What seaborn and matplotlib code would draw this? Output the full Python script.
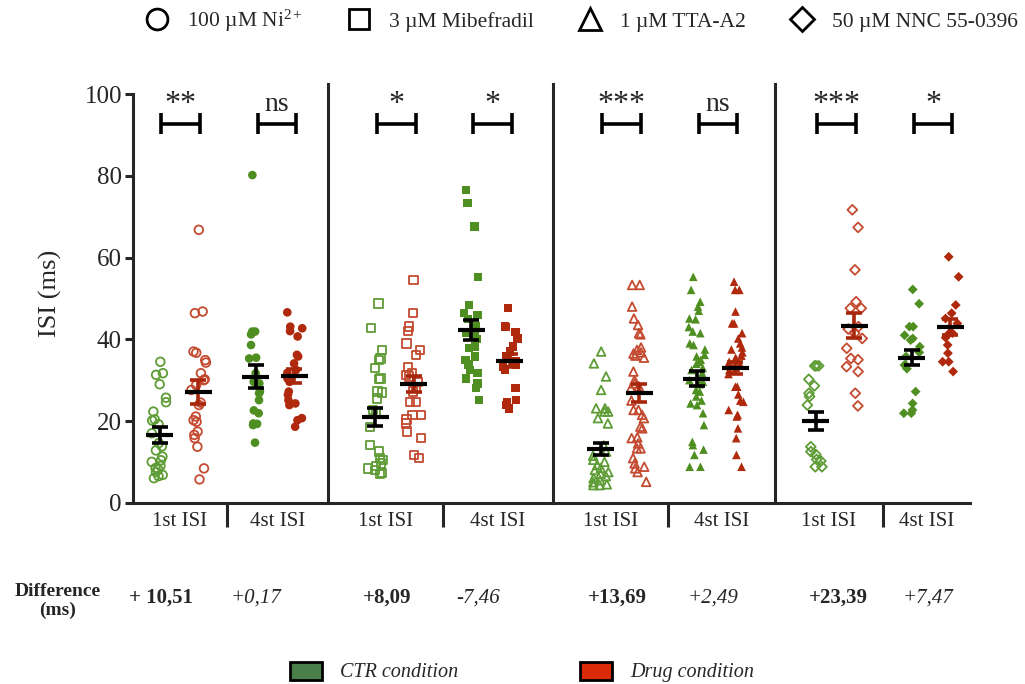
import numpy as np
import pandas as pd
import matplotlib
matplotlib.use("Agg")
import matplotlib.pyplot as plt
from matplotlib.lines import Line2D
from matplotlib.patches import Patch
import seaborn as sns

# ISI values (ms), one list per group
ni_ctr_1st = [34.5, 31.7, 31.3, 29.0, 25.7, 24.6, 22.3, 20.4, 20.1, 19.2, 17.0, 14.6,
              13.8, 12.8, 11.3, 10.4, 10.0, 9.0, 8.5, 8.2, 7.5, 6.8, 6.5, 6.0]
ni_drug_1st = [66.8, 46.8, 46.4, 37.0, 36.7, 34.9, 34.3, 31.7, 30.2, 30.0, 28.8, 27.6,
               24.5, 23.9, 21.1, 20.2, 19.8, 17.4, 16.6, 15.8, 13.7, 8.4, 5.7]
ni_ctr_4st = [80.2, 41.9, 41.9, 41.2, 38.6, 35.5, 35.3, 31.7, 29.6, 29.2, 27.2, 26.8,
              25.1, 22.6, 21.9, 19.4, 19.3, 19.0, 14.7]
ni_drug_4st = [46.6, 43.1, 42.7, 42.0, 40.7, 36.2, 35.8, 34.1, 32.5, 31.8, 30.4, 29.6,
               27.2, 26.4, 25.1, 24.3, 23.9, 20.7, 20.2, 18.6]

mib_ctr_1st = [48.8, 42.7, 37.4, 35.3, 34.9, 32.9, 30.4, 30.2, 27.2, 27.0, 25.5, 22.7,
               21.9, 18.6, 14.1, 12.5, 10.9, 10.4, 9.6, 9.0, 8.4, 8.0, 7.2, 7.0]
mib_drug_1st = [54.5, 46.4, 43.1, 42.1, 39.0, 37.4, 36.2, 33.3, 31.7, 31.3, 30.9, 29.6,
                28.0, 27.2, 24.7, 24.7, 21.5, 21.5, 20.4, 19.4, 17.4, 15.8, 11.7, 10.9]
mib_ctr_4st = [76.6, 73.3, 67.6, 55.2, 48.4, 46.4, 46.0, 45.0, 43.1, 41.5, 41.1, 40.0,
               38.2, 37.8, 35.8, 34.9, 33.8, 32.5, 31.7, 30.4, 29.2, 28.0, 25.1]
mib_drug_4st = [47.6, 43.1, 43.0, 41.8, 40.2, 38.2, 37.0, 35.8, 34.6, 33.7, 33.3, 32.6,
                28.0, 25.1, 24.7, 23.9, 23.1]

tta_ctr_1st = [37.0, 34.1, 30.9, 27.6, 23.1, 23.1, 22.3, 22.3, 20.7, 19.4, 14.0, 12.5,
               11.5, 10.5, 10.0, 9.2, 8.5, 8.0, 7.5, 7.0, 6.5, 6.0, 5.5, 5.0, 4.5, 4.3, 4.3]
tta_drug_1st = [53.3, 53.3, 48.0, 45.1, 43.5, 41.5, 41.2, 38.0, 37.4, 36.8, 36.5, 36.0,
                35.5, 32.1, 30.0, 29.2, 28.5, 28.0, 25.0, 22.7, 22.7, 21.5, 20.7, 18.6,
                18.2, 16.0, 15.8, 14.5, 13.3, 13.3, 10.9, 9.6, 8.8, 8.4, 7.5, 5.1]
tta_ctr_4st = [55.3, 52.1, 49.2, 48.0, 47.0, 45.1, 44.9, 43.0, 41.9, 41.5, 39.0, 38.6,
               37.5, 36.2, 35.8, 35.0, 34.5, 34.0, 33.0, 32.5, 31.7, 30.0, 29.6, 29.0,
               27.6, 27.2, 26.0, 25.0, 24.3, 23.9, 21.9, 19.0, 14.9, 14.1, 13.0, 11.7,
               8.8, 8.8]
tta_drug_4st = [54.1, 52.1, 52.1, 46.8, 43.9, 43.9, 41.5, 40.2, 39.0, 38.0, 37.5, 36.8,
                36.0, 35.5, 35.0, 34.5, 34.0, 33.5, 33.0, 32.5, 31.5, 28.4, 28.4, 26.5,
                25.0, 24.7, 22.7, 21.5, 21.1, 18.2, 15.8, 11.7, 8.8]

nnc_ctr_1st = [33.5, 33.5, 33.5, 30.2, 28.6, 26.8, 26.0, 23.9, 13.7, 12.5, 11.8, 10.6,
               10.2, 8.8, 8.8]
nnc_drug_1st = [71.7, 67.4, 57.0, 49.2, 47.6, 47.6, 43.1, 42.5, 41.5, 40.2, 37.8, 35.3,
                35.0, 33.3, 32.1, 26.8, 23.7]
nnc_ctr_4st = [52.2, 48.7, 43.1, 43.1, 41.0, 40.2, 39.8, 38.2, 36.8, 35.8, 33.7, 33.7,
               32.8, 27.2, 24.3, 22.7, 21.9, 21.9]
nnc_drug_4st = [60.2, 55.3, 48.4, 46.4, 45.1, 43.9, 41.5, 41.5, 40.4, 38.6, 36.6, 34.5,
                34.5, 32.1]

# mean and SEM (CTR 1st, Drug 1st, CTR 4st, Drug 4st) per panel
ni_mean, ni_sem = [16.6, 27.1, 30.8, 31.0], [1.9, 3.0, 2.8, 1.7]
mib_mean, mib_sem = [20.9, 29.0, 42.3, 34.8], [2.2, 2.0, 2.5, 1.6]
tta_mean, tta_sem = [13.2, 26.9, 30.4, 32.9], [1.5, 2.2, 1.8, 1.5]
nnc_mean, nnc_sem = [19.9, 43.3, 35.5, 43.0], [2.2, 3.1, 1.8, 2.0]

significance = [["**", "ns"], ["*", "*"], ["***", "ns"], ["***", "*"]]
differences = ["+ 10,51", "+0,17", "+8,09", "-7,46", "+13,69", "+2,49", "+23,39", "+7,47"]

drug_labels = ["100 µM Ni$^{2+}$", "3 µM Mibefradil", "1 µM TTA-A2", "50 µM NNC 55-0396"]
isi_order = ["1st ISI", "4st ISI"]
cond_order = ["CTR", "Drug"]

panels = [
    (ni_ctr_1st, ni_drug_1st, ni_ctr_4st, ni_drug_4st, ni_mean, ni_sem),
    (mib_ctr_1st, mib_drug_1st, mib_ctr_4st, mib_drug_4st, mib_mean, mib_sem),
    (tta_ctr_1st, tta_drug_1st, tta_ctr_4st, tta_drug_4st, tta_mean, tta_sem),
    (nnc_ctr_1st, nnc_drug_1st, nnc_ctr_4st, nnc_drug_4st, nnc_mean, nnc_sem),
]

# styling
markers = ["o", "s", "^", "D"]
msizes = [6.2, 6.0, 6.2, 5.0]
open_pal = {"CTR": "#5e9c35", "Drug": "#c44a30"}
fill_pal = {"CTR": "#4f8f22", "Drug": "#b0290c"}

sns.set_style("ticks")
plt.rcParams["font.family"] = ["Liberation Serif", "DejaVu Serif"]
plt.rcParams["mathtext.fontset"] = "custom"
plt.rcParams["mathtext.rm"] = "Liberation Serif"
plt.rcParams["mathtext.it"] = "Liberation Serif:italic"

W, H = 1025, 684
fig = plt.figure(figsize=(W / 100, H / 100), dpi=100)

# layout in pixels
bounds = [(133, 328), (328, 553), (553, 775), (775, 970)]
mid_px = [227, 442.5, 668, 883]
scale = 96.4          # px per category unit
y0_px, ppu = 502.7, 4.085
ytop = 102.5
xs = [-0.2, 0.2, 0.8, 1.2]

np.random.seed(3)
for i, (c1, d1, c4, d4, means, sems) in enumerate(panels):
    l, r = bounds[i]
    ax = fig.add_axes([l / W, (H - y0_px) / H, (r - l) / W, ytop * ppu / H])

    rows = []
    for isi, cond, vals in [("1st ISI", "CTR", c1), ("1st ISI", "Drug", d1),
                            ("4st ISI", "CTR", c4), ("4st ISI", "Drug", d4)]:
        rows += [{"isi": isi, "cond": cond, "ms": v} for v in vals]
    df = pd.DataFrame(rows)

    n0 = len(ax.collections)
    sns.stripplot(data=df[df.isi == "1st ISI"], x="isi", y="ms", hue="cond",
                  order=isi_order, hue_order=cond_order, dodge=True, jitter=0.17,
                  marker=markers[i], size=msizes[i], palette=open_pal,
                  legend=False, ax=ax, zorder=2)
    for coll in ax.collections[n0:]:
        coll.set_edgecolor(coll.get_facecolor())
        coll.set_facecolor("none")
        coll.set_linewidth(1.3)
    sns.stripplot(data=df[df.isi == "4st ISI"], x="isi", y="ms", hue="cond",
                  order=isi_order, hue_order=cond_order, dodge=True, jitter=0.17,
                  marker=markers[i], size=msizes[i], palette=fill_pal, linewidth=0,
                  legend=False, ax=ax, zorder=2)

    # mean +/- SEM
    for j, x in enumerate(xs):
        ecol = "black" if j % 2 == 0 else "#a8260b"
        ax.errorbar(x, means[j], yerr=sems[j], fmt="none", ecolor=ecol,
                    elinewidth=2.6, capsize=6, capthick=2.6, zorder=5)
        ax.hlines(means[j], x - 0.14, x + 0.14, color="black", lw=3, zorder=6)

    # significance brackets
    for k, (a, b) in enumerate([(-0.18, 0.22), (0.82, 1.22)]):
        ax.plot([a, b], [92.8, 92.8], color="black", lw=2.6, solid_capstyle="butt")
        ax.vlines([a, b], 90.2, 95.4, color="black", lw=2.6)
        lab = significance[i][k]
        if lab == "ns":
            ax.text((a + b) / 2, 96.0, lab, ha="center", va="baseline", fontsize=20)
        else:
            ax.text((a + b) / 2, 95.6, lab, ha="center", va="baseline", fontsize=23)

    lo = 0.5 - (mid_px[i] - l) / scale
    hi = 0.5 + (r - mid_px[i]) / scale
    ax.set_xlim(lo, hi)
    ax.set_ylim(0, ytop)
    ax.set_xticks([0.5])
    ax.set_xticklabels([])
    ax.set_xticks([(lo + 0.5) / 2, (hi + 0.5) / 2], minor=True)
    ax.set_xticklabels(isi_order, minor=True)
    ax.tick_params(axis="x", which="major", length=17, width=2.2, direction="out")
    ax.tick_params(axis="x", which="minor", length=0, pad=7, labelsize=15)
    ax.set_xlabel("")
    ax.spines["top"].set_visible(False)
    ax.spines["right"].set_visible(False)
    ax.spines["bottom"].set_linewidth(2.2)
    ax.spines["left"].set_linewidth(2.2)
    ax.patch.set_alpha(0)
    if i == 0:
        ax.spines["left"].set_bounds(0, 100)
        ax.set_yticks(range(0, 101, 20))
        ax.tick_params(axis="y", length=6, width=2.2, labelsize=18, pad=2)
        ax.set_ylabel("ISI (ms)", fontsize=19)
        ax.yaxis.set_label_coords((62 - l) / (r - l), 0.5)
    else:
        ax.set_yticks([])
        ax.set_ylabel("")

# differences row
diff_x_px = [161, 256, 387, 478, 617, 713, 838, 928]
fig.text(58 / W, 1 - 601 / H, "Difference\n(ms)", ha="center", va="center",
         fontsize=14, fontweight="bold", linespacing=1.15)
for k, txt in enumerate(differences):
    if k % 2 == 0:
        fig.text(diff_x_px[k] / W, 1 - 598 / H, txt, ha="center", va="center",
                 fontsize=15, fontweight="bold")
    else:
        fig.text(diff_x_px[k] / W, 1 - 598 / H, txt, ha="center", va="center",
                 fontsize=15, fontstyle="italic")

# top legend (drugs / marker shapes)
shape_handles = [
    Line2D([], [], marker="o", ls="none", mfc="none", mec="black", mew=2, ms=15),
    Line2D([], [], marker="s", ls="none", mfc="none", mec="black", mew=2, ms=14),
    Line2D([], [], marker="^", ls="none", mfc="none", mec="black", mew=2, ms=16),
    Line2D([], [], marker="D", ls="none", mfc="none", mec="black", mew=2, ms=12),
]
fig.legend(shape_handles, drug_labels, loc="center", bbox_to_anchor=(581 / W, 1 - 21 / H),
           ncol=4, frameon=False, fontsize=15.5, handletextpad=0.8, columnspacing=2.0,
           handlelength=1.2)

# bottom legend (conditions)
cond_handles = [Patch(facecolor="#4a7f4a", edgecolor="black", lw=2),
                Patch(facecolor="#d92b06", edgecolor="black", lw=2)]
fig.legend(cond_handles, ["CTR condition", "Drug condition"], loc="center",
           bbox_to_anchor=(522 / W, 1 - 672 / H), ncol=2, frameon=False,
           prop={"style": "italic", "size": 14.5}, handlelength=1.6, handleheight=1.0,
           handletextpad=0.9, columnspacing=6.0)

fig.savefig("out.png", dpi=100)
